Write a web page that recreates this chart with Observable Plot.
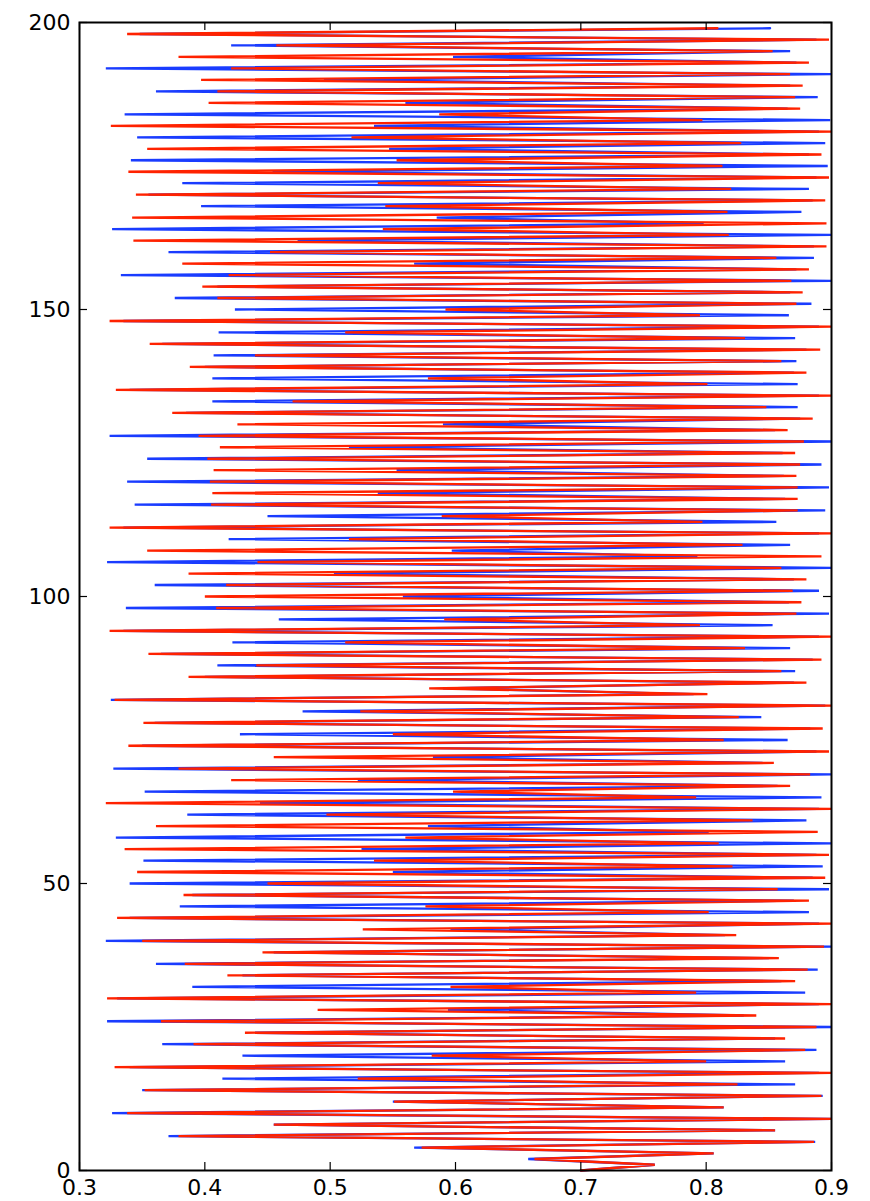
<!DOCTYPE html>
<html>
<head>
<meta charset="utf-8">
<script src="https://cdn.jsdelivr.net/npm/d3@7"></script>
<script src="https://cdn.jsdelivr.net/npm/@observablehq/plot@0.6"></script>
<style>
  html, body { margin: 0; padding: 0; background: #fff; }
  #chart svg { display: block; }
</style>
</head>
<body>
<div id="chart"></div>
<script>
// Series values: x value at each step (step index = y)
const redValues = [
  0.70,0.759,0.663,0.806,0.573,0.886,0.379,0.855,0.455,0.9,
  0.338,0.814,0.551,0.892,0.352,0.825,0.522,0.9,0.328,0.8,
  0.581,0.879,0.391,0.863,0.432,0.888,0.365,0.84,0.49,0.9,
  0.322,0.792,0.596,0.871,0.418,0.881,0.384,0.858,0.446,0.894,
  0.35,0.824,0.526,0.9,0.33,0.802,0.576,0.882,0.383,0.857,
  0.45,0.895,0.346,0.821,0.535,0.898,0.336,0.81,0.56,0.889,
  0.361,0.837,0.497,0.9,0.321,0.792,0.598,0.867,0.421,0.883,
  0.379,0.854,0.455,0.898,0.339,0.814,0.55,0.893,0.351,0.826,
  0.524,0.9,0.328,0.801,0.579,0.88,0.387,0.86,0.441,0.892,
  0.355,0.831,0.512,0.9,0.324,0.795,0.591,0.872,0.409,0.876,
  0.4,0.869,0.417,0.88,0.387,0.86,0.442,0.892,0.354,0.829,
  0.515,0.9,0.324,0.797,0.589,0.873,0.405,0.873,0.406,0.873,
  0.404,0.872,0.407,0.875,0.402,0.871,0.412,0.878,0.395,0.865,
  0.426,0.885,0.374,0.848,0.47,0.9,0.329,0.801,0.578,0.88,
  0.388,0.86,0.44,0.891,0.356,0.831,0.512,0.9,0.324,0.795,
  0.592,0.872,0.41,0.877,0.398,0.868,0.419,0.882,0.382,0.856,
  0.452,0.896,0.343,0.818,0.542,0.896,0.342,0.817,0.544,0.895,
  0.345,0.82,0.538,0.898,0.339,0.813,0.553,0.892,0.354,0.828,
  0.517,0.9,0.325,0.797,0.587,0.875,0.403,0.871,0.41,0.877,
  0.397,0.867,0.421,0.882,0.379,0.853,0.457,0.898,0.338,0.809
];
const blueValues = [
  0.70,0.759,0.658,0.806,0.567,0.887,0.371,0.855,0.455,0.9,
  0.326,0.814,0.55,0.893,0.35,0.871,0.414,0.89,0.34,0.863,
  0.43,0.888,0.366,0.855,0.44,0.9,0.322,0.83,0.594,0.89,
  0.33,0.879,0.39,0.86,0.43,0.889,0.361,0.85,0.455,0.9,
  0.321,0.815,0.596,0.89,0.34,0.882,0.38,0.87,0.39,0.898,
  0.34,0.885,0.55,0.893,0.351,0.888,0.525,0.9,0.329,0.802,
  0.578,0.88,0.386,0.89,0.444,0.892,0.352,0.857,0.522,0.9,
  0.327,0.845,0.582,0.888,0.35,0.865,0.428,0.883,0.36,0.844,
  0.478,0.895,0.325,0.79,0.59,0.87,0.4,0.871,0.41,0.885,
  0.365,0.867,0.422,0.89,0.335,0.853,0.459,0.898,0.337,0.866,
  0.558,0.89,0.36,0.87,0.503,0.9,0.322,0.793,0.597,0.867,
  0.419,0.89,0.335,0.856,0.45,0.895,0.344,0.863,0.538,0.898,
  0.338,0.862,0.553,0.892,0.354,0.861,0.515,0.9,0.324,0.855,
  0.59,0.875,0.385,0.873,0.406,0.89,0.34,0.873,0.406,0.87,
  0.4,0.872,0.407,0.88,0.366,0.871,0.411,0.89,0.335,0.866,
  0.424,0.884,0.376,0.867,0.41,0.9,0.333,0.872,0.567,0.886,
  0.371,0.886,0.474,0.9,0.326,0.798,0.585,0.876,0.397,0.885,
  0.355,0.882,0.382,0.888,0.454,0.897,0.341,0.882,0.547,0.895,
  0.346,0.89,0.535,0.899,0.336,0.865,0.56,0.889,0.361,0.867,
  0.495,0.9,0.321,0.872,0.598,0.867,0.421,0.888,0.348,0.851
];
const xTicks = [0.3, 0.4, 0.5, 0.6, 0.7, 0.8, 0.9];
const yTicks = [0, 50, 100, 150, 200];
const xTickLabels = ["0.3", "0.4", "0.5", "0.6", "0.7", "0.8", "0.9"];
const yTickLabels = ["0", "50", "100", "150", "200"];

const blueData = blueValues.map((v, i) => ({x: v, y: i}));
const redData = redValues.map((v, i) => ({x: v, y: i}));

const W = 870, H = 1201;
const mL = 79, mR = 39, mT = 22, mB = 31;
const plotW = W - mL - mR, plotH = H - mT - mB;
const tickLen = 8;

const chart = Plot.plot({
  width: W,
  height: H,
  marginLeft: mL,
  marginRight: mR,
  marginTop: mT,
  marginBottom: mB,
  style: {fontFamily: "DejaVu Sans", fontSize: "22px", background: "#fff", color: "#000", overflow: "visible"},
  x: {domain: [0.3, 0.9], label: null},
  y: {domain: [0, 200], label: null},
  marks: [
    Plot.line(blueData, {x: "x", y: "y", stroke: "#1a3cff", strokeWidth: 2.3, strokeLinejoin: "miter", strokeMiterlimit: 10}),
    Plot.line(redData, {x: "x", y: "y", stroke: "#ff2200", strokeWidth: 2.3, strokeLinejoin: "miter", strokeMiterlimit: 10}),
    // inward ticks on all four sides
    Plot.ruleX(xTicks, {x: d => d, stroke: "#000", strokeWidth: 1.2, insetTop: plotH - tickLen}),
    Plot.ruleX(xTicks, {x: d => d, stroke: "#000", strokeWidth: 1.2, insetBottom: plotH - tickLen}),
    Plot.ruleY(yTicks, {y: d => d, stroke: "#000", strokeWidth: 1.2, insetRight: plotW - tickLen}),
    Plot.ruleY(yTicks, {y: d => d, stroke: "#000", strokeWidth: 1.2, insetLeft: plotW - tickLen}),
    Plot.axisX(xTicks, {anchor: "bottom", tickSize: 0, tickPadding: 9, tickFormat: (d, i) => xTickLabels[i], fontSize: 22, label: null}),
    Plot.axisY(yTicks, {anchor: "left", tickSize: 0, tickPadding: 9, tickFormat: (d, i) => yTickLabels[i], fontSize: 22, label: null}),
    Plot.frame({stroke: "#000", strokeWidth: 2})
  ]
});
document.getElementById("chart").appendChild(chart);
</script>
</body>
</html>
